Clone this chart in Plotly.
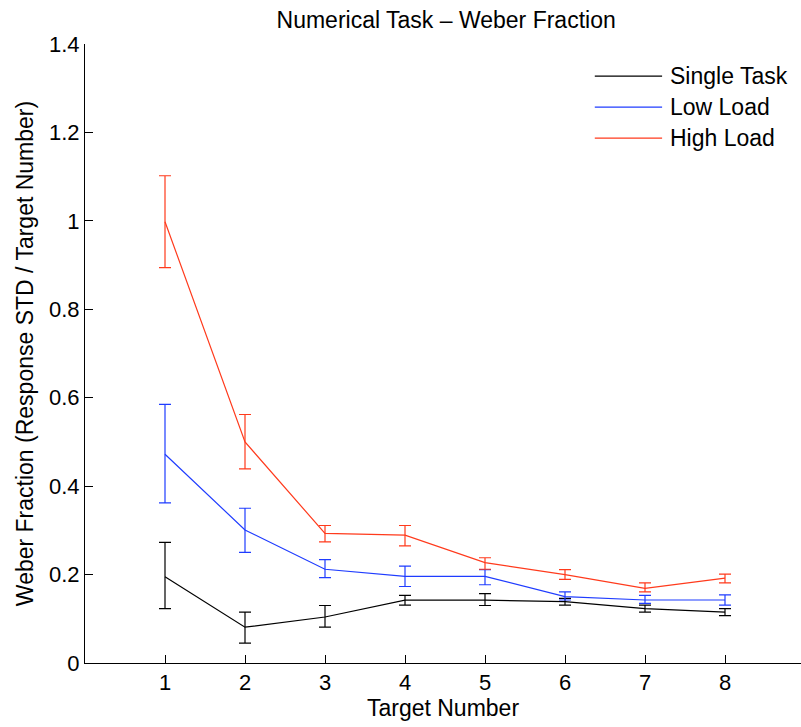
import plotly.graph_objects as go

# Weber fraction per target number, with error bar extents
target_numbers = [1, 2, 3, 4, 5, 6, 7, 8]

single_task = [0.195, 0.081, 0.104, 0.142, 0.142, 0.139, 0.123, 0.115]
single_task_err_plus = [0.078, 0.034, 0.026, 0.011, 0.015, 0.007, 0.008, 0.008]
single_task_err_minus = [0.072, 0.036, 0.023, 0.011, 0.012, 0.008, 0.008, 0.008]

low_load = [0.472, 0.301, 0.212, 0.196, 0.196, 0.150, 0.1425, 0.1425]
low_load_err_plus = [0.113, 0.049, 0.022, 0.023, 0.015, 0.011, 0.0105, 0.0115]
low_load_err_minus = [0.110, 0.051, 0.019, 0.023, 0.019, 0.0075, 0.0075, 0.0115]

high_load = [0.998, 0.500, 0.293, 0.289, 0.227, 0.200, 0.169, 0.192]
high_load_err_plus = [0.104, 0.062, 0.018, 0.022, 0.011, 0.011, 0.012, 0.009]
high_load_err_minus = [0.104, 0.061, 0.019, 0.024, 0.015, 0.011, 0.008, 0.011]

series_names = ["Single Task", "Low Load", "High Load"]
series_colors = ["#000000", "#1f3cff", "#ff3a1c"]

FONT = "Liberation Sans, Arial, Helvetica, sans-serif"
TICK_SIZE = 22
TEXT_SIZE = 23

fig = go.Figure()
series = [
    (single_task, single_task_err_plus, single_task_err_minus),
    (low_load, low_load_err_plus, low_load_err_minus),
    (high_load, high_load_err_plus, high_load_err_minus),
]
for (vals, ep, em), name, color in zip(series, series_names, series_colors):
    fig.add_trace(go.Scatter(
        x=target_numbers, y=vals, name=name, mode="lines",
        line=dict(color=color, width=1.2),
        error_y=dict(type="data", symmetric=False, array=ep, arrayminus=em,
                     color=color, thickness=1.2, width=6),
        showlegend=False,
    ))

# Legend drawn as short line samples with labels in the upper right
legend_y = [0.948, 0.898, 0.848]
for name, color, ly in zip(series_names, series_colors, legend_y):
    fig.add_shape(type="line", xref="paper", yref="paper",
                  x0=0.712, x1=0.806, y0=ly, y1=ly,
                  line=dict(color=color, width=1.2))
    fig.add_annotation(xref="paper", yref="paper", x=0.814, y=ly,
                       text=name, showarrow=False, xanchor="left",
                       yanchor="middle",
                       font=dict(family=FONT, size=TEXT_SIZE, color="#000000"))

fig.update_layout(
    width=801, height=727,
    margin=dict(l=85, r=0, t=44, b=64),
    paper_bgcolor="white", plot_bgcolor="white",
    font=dict(family=FONT, size=TICK_SIZE, color="#000000"),
    title=dict(text="Numerical Task \u2013 Weber Fraction", x=0.557,
               xanchor="center", y=0.972, yanchor="middle",
               font=dict(family=FONT, size=TEXT_SIZE)),
)
fig.update_xaxes(
    range=[0, 8.95], tickvals=target_numbers, ticks="inside", ticklen=8,
    tickcolor="#000000", showline=True, linecolor="#000000", linewidth=1,
    showgrid=False, zeroline=False,
    title=dict(text="Target Number", standoff=2, font=dict(size=TEXT_SIZE)),
    tickfont=dict(size=TICK_SIZE),
)
fig.update_yaxes(
    range=[0, 1.4], tickvals=[0, 0.2, 0.4, 0.6, 0.8, 1.0, 1.2, 1.4],
    ticktext=["0", "0.2", "0.4", "0.6", "0.8", "1", "1.2", "1.4"],
    ticks="inside", ticklen=8, tickcolor="#000000",
    showline=True, linecolor="#000000", linewidth=1,
    showgrid=False, zeroline=False,
    title=dict(text="Weber Fraction (Response STD / Target Number)",
               standoff=8, font=dict(size=TEXT_SIZE)),
    tickfont=dict(size=TICK_SIZE),
)

fig.write_html("out.html")
